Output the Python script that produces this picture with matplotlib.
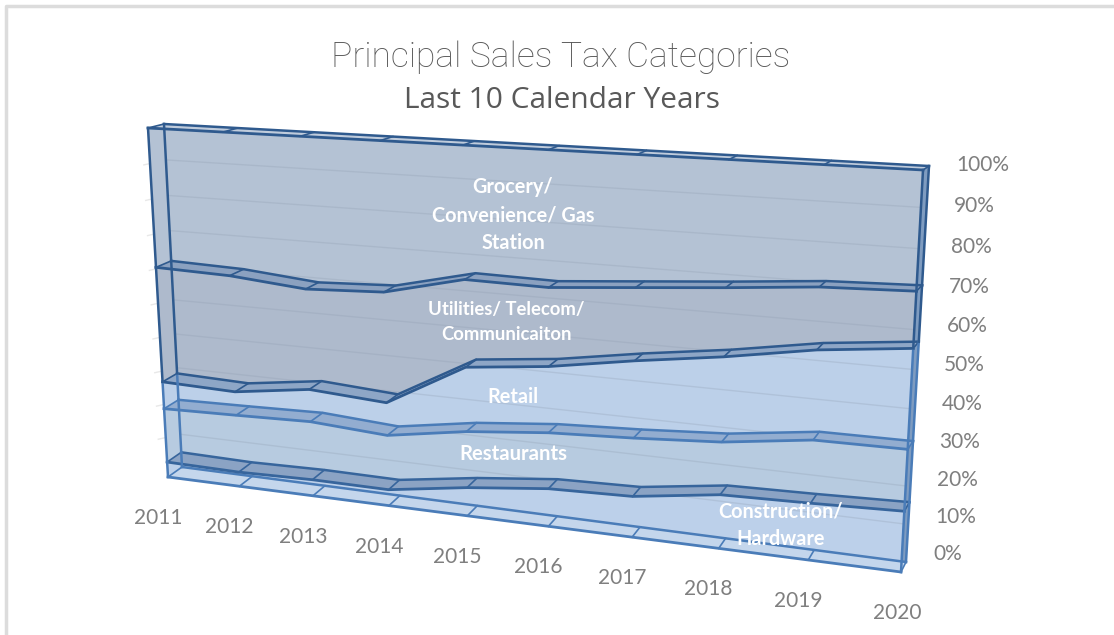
import numpy as np
import matplotlib
matplotlib.use('Agg')
import matplotlib.pyplot as plt
from matplotlib.patches import Polygon

plt.rcParams['font.family'] = ['Lato', 'DejaVu Sans']

years = ['2011', '2012', '2013', '2014', '2015', '2016', '2017', '2018', '2019', '2020']
pct_ticks = [0, 10, 20, 30, 40, 50, 60, 70, 80, 90, 100]

# cumulative top of each stacked series, percent
construction = [4.5, 4.2, 4.7, 4.6, 8.0, 10.5, 11.2, 14.5, 15.1, 15.9]
restaurants = [20.4, 20.9, 21.5, 20.1, 23.7, 25.9, 27.0, 28.5, 31.6, 31.8]
retail = [28.3, 27.7, 30.7, 29.3, 41.4, 43.8, 47.5, 50.7, 54.6, 57.1]
utilities = [61.3, 60.7, 58.8, 59.8, 65.0, 64.7, 66.5, 68.3, 70.3, 71.1]
grocery = [100] * 10
floor = [0] * 10

names = ['Construction/\nHardware', 'Restaurants', 'Retail',
         'Utilities/ Telecom/\nCommunicaiton', 'Grocery/\nConvenience/ Gas\nStation']
tops = [construction, restaurants, retail, utilities, grocery]
face_cols = ['#bcd0ea', '#b7cbe0', '#bcd0e9', '#aebacc', '#b4c2d4']
band_cols = ['#8ba3c4', '#93add0', '#8ea6c6', '#8ba1c0', '#c0ccdc']
edge_cols = ['#37659c', '#4a7cb8', '#2f5a8e', '#2f5a8e', '#2f5a8e']
label_pos = [(781, 525), (513, 454), (513, 397), (506, 322), (513, 215)]
label_size = [14.3, 14.6, 14.3, 13.3, 14.3]


def homography(corners):
    # unit square (x, y) -> picture pixels
    src = [(0, 0), (1, 0), (1, 1), (0, 1)]
    a, b = [], []
    for (x, y), (u, v) in zip(src, corners):
        a.append([x, y, 1, 0, 0, 0, -u * x, -u * y])
        a.append([0, 0, 0, x, y, 1, -v * x, -v * y])
        b += [u, v]
    return np.append(np.linalg.solve(np.array(a, float), np.array(b, float)), 1).reshape(3, 3)


H_front = homography([(168, 477), (901, 572), (923, 170), (148, 128)])
H_back = homography([(182, 467), (906, 562), (929, 166), (164, 124)])


def project(i, pct, depth=0.0):
    p = np.array([i / (len(years) - 1), pct / 100, 1.0])
    f = H_front @ p
    b = H_back @ p
    return (1 - depth) * f[:2] / f[2] + depth * b[:2] / b[2]


fig = plt.figure(figsize=(11.14, 6.35), dpi=100)
ax = fig.add_axes([0, 0, 1, 1])
ax.set_xlim(0, 1114)
ax.set_ylim(635, 0)
ax.axis('off')

# frame of the picture
ax.plot([6, 6, 1114], [635, 6, 6], color='#dcdcdc', lw=2.5)

idx = range(len(years))
lowers = [floor] + tops[:-1]

# right side strips and front faces
for low, top, fc in zip(lowers, tops, face_cols):
    n = len(years) - 1
    ax.add_patch(Polygon([project(n, low[n], 0), project(n, top[n], 0),
                          project(n, top[n], 1), project(n, low[n], 1)],
                         fc='#7f9cc0', ec='none', zorder=2))
    front = [project(i, top[i]) for i in idx] + [project(i, low[i]) for i in reversed(idx)]
    ax.add_patch(Polygon(front, fc=fc, ec='none', zorder=2))

# gridlines on the wall, stub to the left of the box
for p in pct_ticks[1:-1]:
    pts = np.array([project(0, p, 1) + (-22, 5), project(0, p, 1), project(len(years) - 1, p, 1)])
    ax.plot(pts[:2, 0], pts[:2, 1], color='#e8e8e8', lw=1, zorder=1)
    ax.plot(pts[1:, 0], pts[1:, 1], color='#8f9db0', lw=1, alpha=0.28, zorder=3)

# floor and the top of each series
for top, fc, ec in zip([floor] + tops, ['#c4d6ec'] + band_cols, ['#4a7cb8'] + edge_cols):
    for i in range(len(years) - 1):
        quad = [project(i, top[i], 0), project(i + 1, top[i + 1], 0),
                project(i + 1, top[i + 1], 1), project(i, top[i], 1)]
        ax.add_patch(Polygon(quad, fc=fc, ec='none', zorder=4))
    front = np.array([project(i, top[i], 0) for i in idx])
    back = np.array([project(i, top[i], 1) for i in idx])
    ax.plot(front[:, 0], front[:, 1], color=ec, lw=2, zorder=5)
    ax.plot(back[:, 0], back[:, 1], color=ec, lw=1.8, zorder=5)
    for f, b in zip(front, back):
        ax.plot([f[0], b[0]], [f[1], b[1]], color=ec, lw=1.2, zorder=5)

# upright edges of the box
for low, top, ec in zip(lowers, tops, ['#4a7cb8', '#4a7cb8', '#4a7cb8', '#2f5a8e', '#2f5a8e']):
    for i in (0, len(years) - 1):
        for d in (0, 1):
            a, b = project(i, low[i], d), project(i, top[i], d)
            ax.plot([a[0], b[0]], [a[1], b[1]], color=ec, lw=1.8, zorder=6)

# axis labels
for i, y in enumerate(years):
    x0, y0 = project(i, 0)
    ax.text(x0 - 10 + 6 * (i == 9), y0 + 41, y, color='#7f7f7f', fontsize=15,
            ha='center', va='center')
for p in pct_ticks:
    x0, y0 = project(len(years) - 1, p, 1)
    ax.text(x0 + 27, y0 - 1 - 7 * (1 - p / 100), f'{p}%', color='#7f7f7f', fontsize=15,
            ha='left', va='center')

# series names on the chart
for name, (x0, y0), size in zip(names, label_pos, label_size):
    ax.text(x0, y0, name, color='white', fontsize=size, fontweight='bold',
            ha='center', va='center', linespacing=1.5, zorder=8)

ax.text(561, 57, 'Principal Sales Tax Categories', color='#595959', fontsize=25.5,
        family=['Roboto', 'DejaVu Sans'], fontweight='light', ha='center', va='center')
ax.text(562, 100, 'Last 10 Calendar Years', color='#595959', fontsize=21.5,
        family=['Open Sans', 'DejaVu Sans'], ha='center', va='center')

fig.savefig('out.png', dpi=100)
